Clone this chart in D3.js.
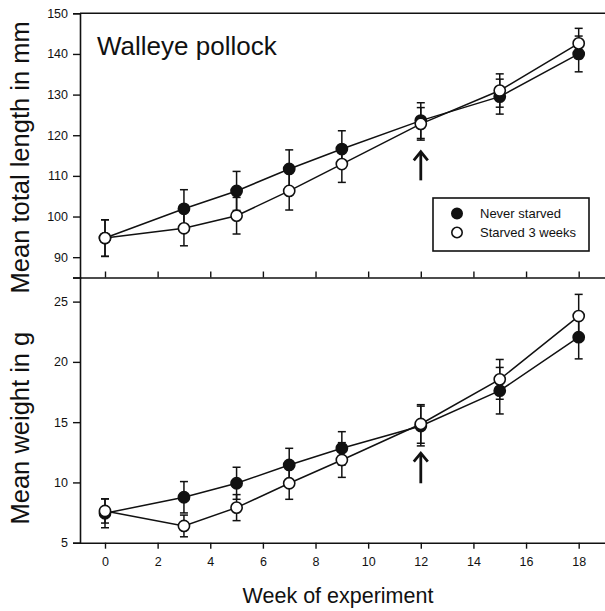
<!DOCTYPE html>
<html>
<head>
<meta charset="utf-8">
<script src="https://cdn.jsdelivr.net/npm/d3@7"></script>
<style>
  html, body { margin: 0; padding: 0; background: #fff; }
  svg { display: block; font-family: "Liberation Sans", Arial, Helvetica, sans-serif; }
</style>
</head>
<body>
<svg id="chart" width="605" height="611"></svg>
<script>
// ---------- data ----------
const weeks = [0, 3, 5, 7, 9, 12, 15, 18];
const lengthNever       = [94.7, 101.9, 106.3, 111.7, 116.6, 123.6, 129.5, 140.0];
const lengthNeverErr    = [4.5, 4.7, 4.8, 4.7, 4.5, 4.4, 4.3, 4.4];
const lengthStarved     = [94.7, 97.1, 100.2, 106.3, 112.9, 122.8, 131.0, 142.6];
const lengthStarvedErr  = [4.5, 4.3, 4.5, 4.7, 4.5, 4.0, 4.1, 3.7];
const weightNever       = [7.44, 8.77, 9.93, 11.45, 12.83, 14.68, 17.61, 22.05];
const weightNeverErr    = [1.2, 1.3, 1.33, 1.38, 1.38, 1.65, 1.93, 1.8];
const weightStarved     = [7.63, 6.39, 7.91, 9.93, 11.86, 14.85, 18.55, 23.8];
const weightStarvedErr  = [1.0, 0.9, 1.08, 1.33, 1.44, 1.6, 1.65, 1.8];
const xTicks = [0, 2, 4, 6, 8, 10, 12, 14, 16, 18];
const lengthTicks = [90, 100, 110, 120, 130, 140, 150];
const weightTicks = [5, 10, 15, 20, 25];
const seriesNames = ["Never starved", "Starved 3 weeks"];
const arrowWeek = 12;
const lengthArrow = [108.9, 116.3];
const weightArrow = [9.93, 12.55];

// ---------- layout ----------
const svg = d3.select("#chart");
const left = 80, right = 605;
const topY = 13.3, midY = 277.5, botY = 542.7;

const x = d3.scaleLinear().domain([-0.95, 19]).range([left, right]);
const yL = d3.scaleLinear().domain([85, 150]).range([midY, topY]);
const yW = d3.scaleLinear().domain([5, 27]).range([botY, midY]);

const ink = "#111";

function styleAxis(g, fs) {
  g.selectAll("path.domain").attr("stroke", ink).attr("stroke-width", 1.6);
  g.selectAll(".tick line").attr("stroke", ink).attr("stroke-width", 1.4);
  g.selectAll(".tick text").attr("fill", ink).attr("font-size", fs)
    .attr("font-family", "'Liberation Sans', Arial, sans-serif");
}

// top panel frame line
svg.append("line").attr("x1", left).attr("x2", right).attr("y1", topY).attr("y2", topY)
  .attr("stroke", ink).attr("stroke-width", 1.6);

// top panel left axis
const gLy = svg.append("g").attr("transform", `translate(${left},0)`)
  .call(d3.axisLeft(yL).tickValues(lengthTicks).tickSizeOuter(0).tickSize(7).tickPadding(5));
styleAxis(gLy, 12.5);

// top panel bottom axis (inward ticks, no labels)
const gLx = svg.append("g").attr("transform", `translate(0,${midY})`)
  .call(d3.axisTop(x).tickValues(xTicks).tickSize(6).tickSizeOuter(0).tickFormat(""));
styleAxis(gLx, 12.5);

// bottom panel left axis
const gWy = svg.append("g").attr("transform", `translate(${left},0)`)
  .call(d3.axisLeft(yW).tickValues(weightTicks).tickSizeOuter(0).tickSize(7).tickPadding(5));
styleAxis(gWy, 12.5);

// bottom panel bottom axis
const gWx = svg.append("g").attr("transform", `translate(0,${botY})`)
  .call(d3.axisBottom(x).tickValues(xTicks).tickSize(6).tickSizeOuter(0).tickPadding(8));
styleAxis(gWx, 12.5);

// ---------- series drawing ----------
function drawPanel(y, never, neverErr, starved, starvedErr) {
  const sets = [
    { vals: never, err: neverErr, fill: ink },
    { vals: starved, err: starvedErr, fill: "#fff" }
  ];
  const capW = 4;
  sets.forEach(s => {
    const g = svg.append("g").attr("stroke", ink).attr("stroke-width", 1.5);
    weeks.forEach((w, i) => {
      const cx = x(w), hi = y(s.vals[i] + s.err[i]), lo = y(s.vals[i] - s.err[i]);
      g.append("line").attr("x1", cx).attr("x2", cx).attr("y1", hi).attr("y2", lo);
      g.append("line").attr("x1", cx - capW).attr("x2", cx + capW).attr("y1", hi).attr("y2", hi);
      g.append("line").attr("x1", cx - capW).attr("x2", cx + capW).attr("y1", lo).attr("y2", lo);
    });
  });
  const line = d3.line().x((d, i) => x(weeks[i])).y(d => y(d));
  sets.forEach(s => {
    svg.append("path").datum(s.vals).attr("d", line)
      .attr("fill", "none").attr("stroke", ink).attr("stroke-width", 1.5);
  });
  sets.forEach(s => {
    svg.append("g").selectAll("circle").data(s.vals).join("circle")
      .attr("cx", (d, i) => x(weeks[i])).attr("cy", d => y(d)).attr("r", 5.6)
      .attr("fill", s.fill).attr("stroke", ink).attr("stroke-width", 1.6);
  });
}
drawPanel(yL, lengthNever, lengthNeverErr, lengthStarved, lengthStarvedErr);
drawPanel(yW, weightNever, weightNeverErr, weightStarved, weightStarvedErr);

// arrows
function arrow(y, vals) {
  const ax = x(arrowWeek), y0 = y(vals[0]), y1 = y(vals[1]);
  const g = svg.append("g").attr("stroke", ink).attr("stroke-width", 2.8).attr("fill", "none");
  g.append("line").attr("x1", ax).attr("x2", ax).attr("y1", y0).attr("y2", y1 + 2);
  g.append("polyline").attr("points", `${ax - 7},${y1 + 10} ${ax},${y1 + 1.5} ${ax + 7},${y1 + 10}`)
    .attr("stroke-linejoin", "miter");
}
arrow(yL, lengthArrow);
arrow(yW, weightArrow);

// ---------- texts ----------
svg.append("text").attr("x", 97).attr("y", 55).attr("font-size", 26).attr("fill", ink)
  .text("Walleye pollock");

svg.append("text").attr("transform", `translate(29,${(topY + midY) / 2 + 12}) rotate(-90)`)
  .attr("text-anchor", "middle").attr("font-size", 25.5).attr("fill", ink)
  .text("Mean total length in mm");
svg.append("text").attr("transform", `translate(29,${(midY + botY) / 2 + 18}) rotate(-90)`)
  .attr("text-anchor", "middle").attr("font-size", 25.5).attr("fill", ink)
  .text("Mean weight in g");

svg.append("text").attr("x", 338).attr("y", 603).attr("text-anchor", "middle")
  .attr("font-size", 21.5).attr("fill", ink).text("Week of experiment");

// legend
const lg = svg.append("g");
lg.append("rect").attr("x", 433).attr("y", 198).attr("width", 156).attr("height", 53)
  .attr("fill", "#fff").attr("stroke", ink).attr("stroke-width", 1.6);
seriesNames.forEach((n, i) => {
  lg.append("circle").attr("cx", 457).attr("cy", 213.5 + i * 19).attr("r", 5.2)
    .attr("fill", i === 0 ? ink : "#fff").attr("stroke", ink).attr("stroke-width", 1.6);
  lg.append("text").attr("x", 480).attr("y", 218 + i * 19).attr("font-size", 13)
    .attr("fill", ink).text(n);
});
</script>
</body>
</html>
